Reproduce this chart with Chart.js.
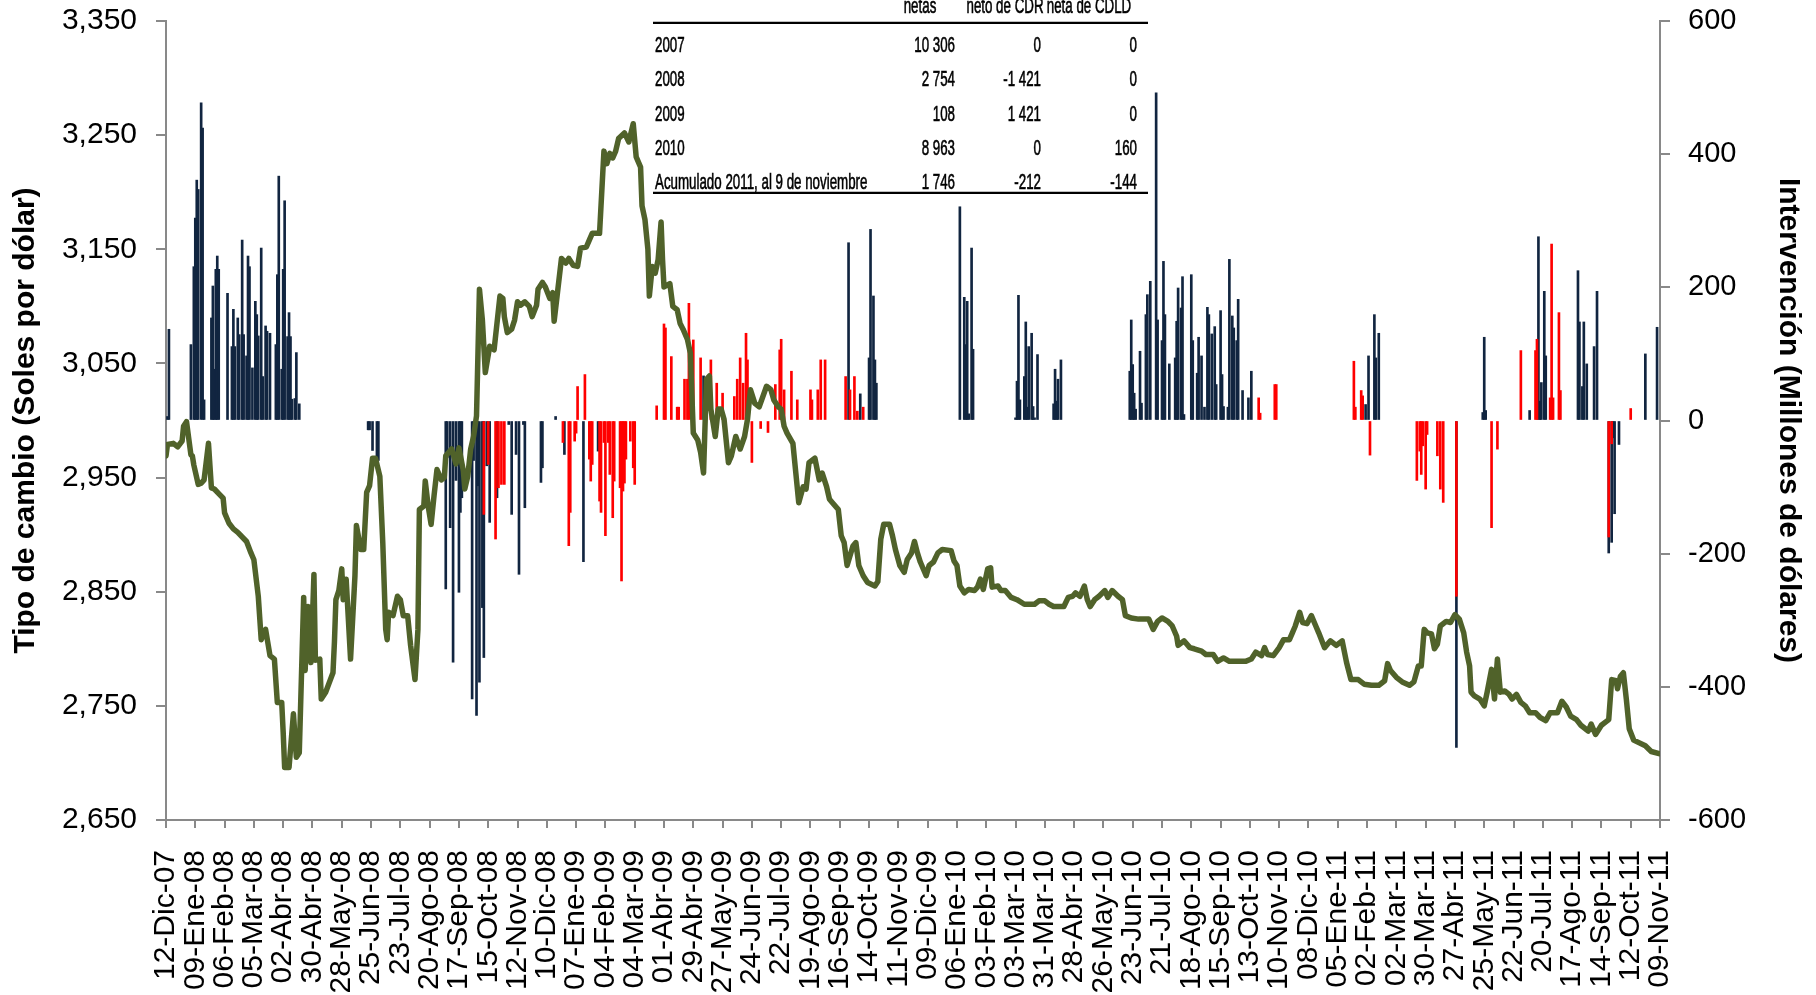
<!DOCTYPE html>
<html>
<head>
<meta charset="utf-8">
<script src="https://cdn.jsdelivr.net/npm/chart.js@4.4.1/dist/chart.umd.min.js"></script>
<style>
html,body{margin:0;padding:0;background:#fff;}
#c{display:block;}
</style>
</head>
<body>
<canvas id="c" width="1816" height="995"></canvas>
<script>
// ---------- DATA ----------
const etiquetasFecha = ['12-Dic-07','09-Ene-08','06-Feb-08','05-Mar-08','02-Abr-08','30-Abr-08','28-May-08','25-Jun-08','23-Jul-08','20-Ago-08','17-Sep-08','15-Oct-08','12-Nov-08','10-Dic-08','07-Ene-09','04-Feb-09','04-Mar-09','01-Abr-09','29-Abr-09','27-May-09','24-Jun-09','22-Jul-09','19-Ago-09','16-Sep-09','14-Oct-09','11-Nov-09','09-Dic-09','06-Ene-10','03-Feb-10','03-Mar-10','31-Mar-10','28-Abr-10','26-May-10','23-Jun-10','21-Jul-10','18-Ago-10','15-Sep-10','13-Oct-10','10-Nov-10','08-Dic-10','05-Ene-11','02-Feb-11','02-Mar-11','30-Mar-11','27-Abr-11','25-May-11','22-Jun-11','20-Jul-11','17-Ago-11','14-Sep-11','12-Oct-11','09-Nov-11'];
const diasPorEtiqueta = 20; // business days between date labels
const ultimoDia = 1020;

// Tipo de cambio: [business-day index, soles por dólar]
const tipoCambio = [[0,2969],[1,2979],[5,2980],[8,2977],[11,2982],[12,2995],[14,2999],[17,2970],[18,2969],[19,2961],[22,2944],[24,2945],[26,2948],[29,2980],[31,2941],[33,2940],[36,2936],[39,2932],[40,2919],[43,2910],[46,2905],[49,2902],[55,2894],[58,2884],[60,2878],[63,2846],[65,2808],[68,2817],[71,2794],[74,2791],[76,2753],[79,2753],[80,2727],[81,2696],[84,2696],[87,2743],[89,2705],[91,2709],[94,2845],[95,2781],[97,2837],[99,2788],[101,2865],[102,2790],[105,2791],[106,2756],[109,2762],[114,2779],[115,2806],[116,2843],[118,2851],[120,2870],[121,2843],[123,2861],[126,2791],[129,2864],[130,2908],[133,2887],[135,2887],[137,2937],[139,2943],[141,2967],[143,2967],[146,2951],[148,2893],[150,2817],[151,2808],[152,2832],[155,2829],[158,2846],[160,2843],[162,2829],[165,2829],[167,2803],[170,2773],[172,2817],[173,2922],[176,2925],[177,2947],[179,2925],[181,2909],[183,2934],[185,2957],[188,2948],[190,2950],[191,2969],[195,2975],[198,2962],[200,2976],[203,2956],[204,2940],[206,2951],[208,2975],[210,2986],[212,3004],[214,3115],[216,3088],[218,3042],[221,3065],[224,3062],[228,3109],[230,3107],[231,3091],[233,3077],[236,3080],[238,3088],[240,3104],[242,3101],[245,3104],[248,3100],[250,3091],[253,3101],[254,3115],[257,3121],[259,3117],[262,3107],[264,3112],[265,3087],[267,3109],[270,3142],[273,3138],[275,3142],[278,3136],[281,3135],[283,3151],[287,3152],[289,3158],[291,3164],[296,3164],[299,3236],[301,3225],[303,3234],[305,3230],[307,3236],[309,3247],[313,3252],[316,3244],[319,3260],[321,3231],[324,3222],[325,3188],[327,3176],[329,3150],[330,3109],[332,3135],[334,3129],[336,3141],[338,3174],[339,3141],[340,3117],[344,3120],[346,3100],[349,3097],[351,3085],[353,3080],[356,3071],[358,3059],[360,2989],[363,2983],[365,2972],[367,2954],[369,3036],[371,3039],[372,3010],[375,2986],[377,3010],[379,3010],[381,3001],[384,2963],[386,2969],[389,2986],[392,2975],[395,2986],[397,3001],[399,3027],[402,3015],[405,3012],[410,3030],[413,3027],[415,3018],[418,3012],[420,3010],[422,2995],[424,2989],[428,2980],[430,2954],[432,2928],[435,2942],[437,2940],[439,2963],[443,2967],[446,2948],[448,2954],[451,2942],[453,2931],[455,2928],[459,2922],[461,2899],[463,2893],[465,2873],[469,2890],[471,2893],[473,2873],[476,2864],[479,2858],[484,2855],[486,2859],[488,2896],[490,2909],[494,2909],[496,2899],[498,2887],[501,2873],[504,2867],[506,2878],[509,2884],[511,2894],[513,2884],[515,2876],[519,2864],[521,2873],[524,2876],[527,2884],[530,2887],[536,2886],[538,2877],[540,2873],[542,2855],[545,2849],[548,2852],[552,2851],[554,2854],[556,2861],[558,2852],[561,2870],[563,2871],[564,2854],[568,2855],[570,2851],[573,2851],[577,2845],[581,2843],[586,2839],[593,2839],[596,2842],[600,2842],[603,2839],[606,2837],[613,2837],[616,2845],[619,2846],[621,2849],[624,2846],[627,2855],[629,2843],[631,2837],[634,2843],[637,2846],[641,2851],[643,2845],[646,2851],[650,2846],[653,2843],[655,2829],[659,2827],[664,2826],[671,2826],[674,2817],[677,2824],[680,2827],[684,2824],[687,2820],[690,2811],[691,2803],[695,2807],[699,2801],[702,2800],[707,2798],[710,2795],[715,2795],[718,2789],[722,2792],[726,2789],[732,2789],[737,2789],[741,2791],[744,2797],[748,2794],[750,2801],[752,2795],[756,2794],[760,2801],[763,2808],[767,2808],[769,2814],[771,2820],[774,2832],[776,2823],[779,2822],[782,2829],[785,2820],[787,2814],[791,2801],[795,2807],[799,2803],[803,2807],[806,2788],[809,2773],[814,2773],[818,2769],[823,2768],[828,2768],[832,2772],[834,2787],[836,2781],[840,2775],[844,2771],[849,2768],[852,2771],[855,2785],[857,2785],[859,2817],[861,2814],[864,2813],[866,2800],[868,2804],[870,2820],[874,2824],[877,2823],[880,2830],[883,2826],[886,2814],[888,2797],[890,2785],[891,2762],[893,2759],[897,2756],[900,2750],[902,2762],[905,2782],[907,2756],[909,2791],[911,2762],[914,2763],[917,2760],[919,2756],[922,2760],[925,2753],[928,2750],[931,2744],[935,2744],[938,2740],[942,2737],[945,2744],[950,2744],[953,2754],[956,2749],[959,2741],[963,2738],[966,2733],[971,2728],[973,2734],[976,2725],[980,2733],[983,2736],[985,2738],[987,2773],[990,2772],[991,2765],[993,2776],[995,2779],[997,2756],[999,2730],[1002,2720],[1010,2715],[1014,2710],[1020,2708]];

// Intervención (millones US$): compras/ventas en el mercado spot (azul) [day, value]
const intervencionSpot = [[1,6],[2,137],[17,114],[19,231],[20,304],[21,361],[22,347],[24,477],[25,439],[26,31],[31,154],[32,202],[33,77],[34,227],[35,247],[36,227],[42,191],[45,111],[46,167],[47,111],[49,154],[50,129],[52,271],[53,129],[55,97],[56,247],[57,231],[59,79],[61,179],[62,159],[63,127],[65,259],[66,66],[68,142],[69,134],[71,131],[75,114],[76,219],[77,367],[79,77],[80,227],[81,330],[83,126],[84,162],[85,126],[86,32],[88,33],[89,102],[91,25],[138,-14],[139,-14],[141,-45],[144,-60],[145,-60],[191,-253],[192,-56],[194,-161],[196,-363],[198,-90],[200,-258],[201,-138],[202,-116],[209,-418],[210,-60],[212,-443],[213,-98],[214,-393],[216,-281],[217,-356],[219,-68],[221,-153],[226,-116],[234,-6],[236,-141],[239,-51],[241,-231],[244,-6],[245,-131],[256,-93],[257,-71],[266,6],[272,-51],[285,-212],[295,-46],[367,67],[466,267],[474,40],[480,94],[481,287],[483,187],[484,91],[485,56],[542,321],[545,185],[546,114],[547,179],[548,10],[550,259],[551,107],[580,4],[581,59],[582,188],[583,31],[586,66],[587,148],[588,20],[589,111],[591,131],[592,21],[593,4],[595,99],[606,25],[607,77],[608,29],[609,62],[611,91],[658,74],[659,151],[660,84],[661,41],[662,17],[665,104],[666,26],[669,159],[670,189],[672,209],[676,492],[677,151],[680,120],[681,239],[682,159],[685,85],[689,94],[690,149],[691,199],[693,169],[694,216],[695,9],[700,219],[701,120],[704,71],[705,125],[707,97],[709,20],[711,170],[712,159],[714,130],[716,141],[717,54],[720,165],[721,69],[722,21],[725,20],[726,242],[728,157],[729,139],[731,120],[732,182],[735,45],[739,34],[741,74],[819,24],[821,97],[825,159],[826,94],[828,131],[881,-491],[899,12],[900,125],[901,15],[931,15],[937,276],[938,29],[939,57],[941,194],[942,97],[964,225],[965,148],[967,51],[968,148],[970,85],[975,111],[977,194],[985,-199],[987,-183],[988,-26],[989,-140],[992,-36],[1010,100],[1018,140]];

// Intervención con instrumentos (CDR / CDLD), rojo [day, value]
const intervencionCD = [[217,-141],[220,-66],[225,-178],[227,-101],[229,-96],[231,-96],[271,-33],[275,-188],[276,-138],[279,-31],[280,-19],[281,51],[286,69],[289,-58],[290,-91],[291,-66],[296,-121],[297,-138],[299,-33],[300,-173],[302,-33],[303,-81],[305,-146],[306,-91],[310,-101],[311,-241],[312,-106],[313,-94],[314,-58],[317,-31],[319,-71],[320,-96],[335,22],[340,145],[341,139],[345,96],[349,20],[350,20],[354,62],[356,62],[357,176],[360,121],[365,94],[368,31],[372,91],[376,56],[380,41],[388,36],[390,62],[392,94],[394,56],[396,131],[397,91],[400,-63],[406,-12],[411,-18],[416,54],[419,106],[420,122],[422,46],[427,74],[431,31],[440,46],[441,31],[445,46],[447,91],[450,91],[464,66],[467,46],[470,66],[472,14],[476,20],[746,34],[747,11],[757,54],[758,54],[811,89],[812,20],[816,45],[817,37],[822,-52],[854,-90],[856,-46],[857,-81],[858,-38],[860,-103],[861,-21],[868,-53],[870,-103],[872,-123],[881,-264],[905,-161],[909,-43],[925,105],[935,105],[936,122],[945,34],[946,265],[947,34],[951,162],[952,45],[985,-175],[987,-35],[1000,18]];

// Tabla
const tablaEncabezados = ['netas', 'neto de CDR', 'neta de CDLD'];
const tablaFilas = ['2007', '2008', '2009', '2010', 'Acumulado 2011, al 9 de noviembre'];
const comprasNetas = [10306, 2754, 108, 8963, 1746];
const colocacionCDR = [0, -1421, 1421, 0, -212];
const colocacionCDLD = [0, 0, 0, 160, -144];

// ---------- CHART ----------
const FONT = 'Liberation Sans, Arial, sans-serif';
const AXIS_GRAY = '#898989';
const fmtMiles = v => {
  const s = Math.abs(v).toString().replace(/\B(?=(\d{3})+(?!\d))/g, ' ');
  return (v < 0 ? '-' : '') + s;
};

const tablaPlugin = {
  id: 'tabla',
  afterDraw(chart) {
    const c = chart.ctx;
    const sx = 0.62;
    const txt = (t, x, y, align) => {
      c.save();
      c.translate(x, y);
      c.scale(sx, 1);
      c.textAlign = align;
      c.textBaseline = 'alphabetic';
      c.fillText(t, 0, 0);
      c.lineWidth = 0.6;
      c.strokeText(t, 0, 0);
      c.restore();
    };
    c.save();
    c.fillStyle = '#000';
    c.strokeStyle = '#000';
    c.font = '21.5px ' + FONT;
    const hdrX = [920, 1005, 1089];
    tablaEncabezados.forEach((h, i) => txt(h, hdrX[i], 12.5, 'center'));
    const rowY = [52, 86.2, 120.5, 154.8, 188.6];
    tablaFilas.forEach((f, i) => {
      txt(f, 655, rowY[i], 'left');
      txt(fmtMiles(comprasNetas[i]), 955, rowY[i], 'right');
      txt(fmtMiles(colocacionCDR[i]), 1041, rowY[i], 'right');
      txt(fmtMiles(colocacionCDLD[i]), 1137, rowY[i], 'right');
    });
    c.lineWidth = 2.3;
    c.beginPath();
    c.moveTo(653, 22.8); c.lineTo(1148, 22.8);
    c.moveTo(653, 192.8); c.lineTo(1148, 192.8);
    c.stroke();
    c.restore();
  }
};

const toXY = arr => arr.map(p => ({x: p[0], y: p[1]}));
const noPad = s => { s.paddingTop = 0; s.paddingBottom = 0; s.paddingLeft = 0; s.paddingRight = 0; };

new Chart(document.getElementById('c'), {
  data: {
    datasets: [
      {
        type: 'line',
        data: toXY(tipoCambio),
        xAxisID: 'x', yAxisID: 'y',
        borderColor: '#50622A',
        borderWidth: 5.5,
        pointRadius: 0,
        tension: 0,
        borderJoinStyle: 'round',
        borderCapStyle: 'round',
        order: 0
      },
      {
        type: 'bar',
        data: toXY(intervencionCD),
        xAxisID: 'x', yAxisID: 'y1',
        backgroundColor: '#FF0000',
        barThickness: 2,
        grouped: false,
        order: 1
      },
      {
        type: 'bar',
        data: toXY(intervencionSpot),
        xAxisID: 'x', yAxisID: 'y1',
        backgroundColor: '#112540',
        barThickness: 2,
        grouped: false,
        order: 2
      }
    ]
  },
  options: {
    responsive: false,
    animation: false,
    events: [],
    layout: { padding: { top: 21, left: 0, right: 0, bottom: 0 } },
    plugins: { legend: { display: false }, tooltip: { enabled: false } },
    scales: {
      x: {
        type: 'linear',
        position: 'bottom',
        min: 0, max: ultimoDia,
        offset: false,
        afterFit: s => { s.height = 175; noPad(s); },
        grid: { drawOnChartArea: false, drawTicks: true, tickLength: 8, color: AXIS_GRAY, lineWidth: 2, offset: false },
        border: { display: true, color: AXIS_GRAY, width: 2 },
        ticks: {
          stepSize: diasPorEtiqueta,
          autoSkip: false,
          maxRotation: 90, minRotation: 90,
          padding: 22,
          color: '#000',
          font: { family: FONT, size: 30 },
          callback: v => (v % diasPorEtiqueta === 0 ? etiquetasFecha[v / diasPorEtiqueta] : '')
        }
      },
      y: {
        position: 'left',
        min: 2650, max: 3350,
        afterFit: s => { s.width = 166; noPad(s); },
        grid: { drawOnChartArea: false, drawTicks: true, tickLength: 10, color: AXIS_GRAY, lineWidth: 2 },
        border: { display: true, color: AXIS_GRAY, width: 2 },
        ticks: {
          stepSize: 100,
          padding: 19,
          color: '#000',
          font: { family: FONT, size: 30 },
          callback: v => v.toLocaleString('en-US')
        },
        title: {
          display: true,
          text: 'Tipo de cambio (Soles por dólar)',
          color: '#000',
          font: { family: FONT, size: 30, weight: 'bold', lineHeight: 1.2 },
          padding: { top: 8, bottom: 0 }
        }
      },
      y1: {
        position: 'right',
        min: -600, max: 600,
        afterFit: s => { s.width = 156; noPad(s); },
        grid: { drawOnChartArea: false, drawTicks: true, tickLength: 10, color: AXIS_GRAY, lineWidth: 2 },
        border: { display: true, color: AXIS_GRAY, width: 2 },
        ticks: {
          stepSize: 200,
          padding: 18,
          color: '#000',
          font: { family: FONT, size: 29 },
          callback: v => String(v)
        },
        title: {
          display: true,
          text: 'Intervención (Millones de dólares)',
          color: '#000',
          font: { family: FONT, size: 30, weight: 'bold', lineHeight: 1 },
          padding: { top: 13, bottom: 0 }
        }
      }
    }
  },
  plugins: [tablaPlugin]
});
</script>
</body>
</html>
